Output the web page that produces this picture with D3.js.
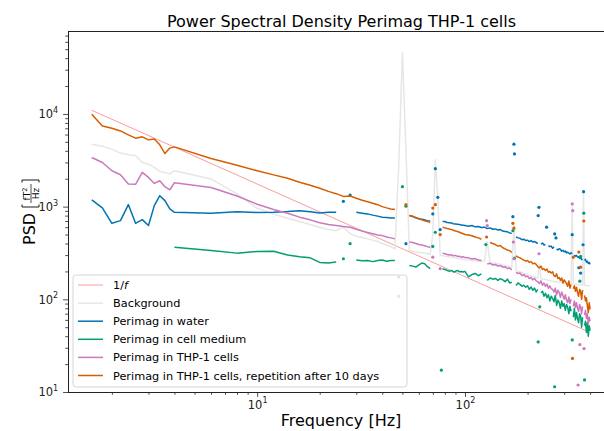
<!DOCTYPE html>
<html>
<head>
<meta charset="utf-8">
<script src="https://cdn.jsdelivr.net/npm/d3@7"></script>
<style>
body { margin: 0; background: #fff; }
svg { display: block; font-family: "DejaVu Sans", sans-serif; }
</style>
</head>
<body>
<svg id="chart" width="604" height="431"></svg>
<script>
// frequency grid [Hz] shared by all measured series
var freqs = [
  1.6, 1.8, 2.0, 2.2, 2.4, 2.6, 2.8, 3.0, 3.2, 3.4, 3.6, 3.8, 4.0,
  6, 8, 10, 12, 14, 16, 18, 20, 22, 24,
  26, 28, 30, 32, 34, 36, 38, 40, 42, 44,
  46, 48, 50, 52, 54, 56, 58, 60, 62, 64,
  66, 68, 70, 72, 74, 76, 78, 80, 82, 84,
  86, 88, 90, 92, 94, 96, 98, 100,
  104, 108, 112, 116, 120, 124, 128, 132, 136, 140,
  144, 148, 152, 156, 160, 164, 168, 172, 176, 180,
  184, 188, 192, 196, 200, 204, 208, 212, 216, 220,
  224, 228, 232, 236, 240, 244, 248, 252, 256, 260,
  264, 268, 272, 276, 280, 284, 288, 292, 296, 300,
  304, 308, 312, 316, 320, 324, 328, 332, 336, 340,
  344, 348, 352, 356, 360, 364, 368, 372, 376, 380,
  384, 388, 392, 396, 400
];

var oneOverFFreqs = [1.6, 390];
var oneOverFValues = [10960, 45];

var background = [
  4720, 4490, 4170, 3780, 3630, 3540, 2990, 2870, 2650, 2400, 2340, 2250, 2440,
  1990, 1370, 960, 830, 750, 690, 640, 600, 565, 550,
  600, 510, 480, 465, 449, 435, 420, 400, 385, 370,
  350, 2800, 46000, 4000, 336, 330, 325, 320, 318, 315,
  310, 305, 500, 3200, 1200, 300, 295, 292, 290, 288,
  285, 282, 280, 278, 275, 272, 270, 268,
  265, 262, 260, 258, 255, 260, 420, 250, 245, 245,
  240, 240, 235, 232, 230, 225, 220, 650, 205, 200,
  198, 195, 190, 188, 185, 182, 180, 178, 175, 172,
  170, 240, 168, 166, 165, 163, 162, 160, 160, 158,
  157, 156, 155, 155, 154, 153, 152, 152, 151, 150,
  150, 149, 149, 148, 148, 147, 1000, 147, 146, 146,
  145, 145, 144, 144, 143, 143, 142, 1450, 142, 141,
  141, 140, 140, 140, 140
];

var water = [
  1180, 968, 661, 706, 1052, 661, 724, 625, 1025, 1313, 1160, 945, 869,
  847, 883, 865, 870, 885, 905, 880, 855, 870, 869,
  null, null, 869, 850, 835, 810, 790, 770, 765, 755,
  755, null, null, null, 800, 780, 760, 740, 730, 720,
  705, 700, null, null, null, null, 690, 690, 675, 670,
  665, 655, 650, 645, 640, 635, 630, 625,
  615, 625, 605, 610, 595, 600, 580, 590, 570, 575,
  560, 565, 545, 540, 535, 520, 515, null, 470, 460,
  455, 440, 445, 430, 435, 420, 430, 415, 420, 410,
  400, null, 395, 405, 385, 390, null, 380, 370, 375,
  355, 368, null, 350, 340, 352, 345, 330, 338, 325,
  332, 318, 322, 315, 308, 318, 310, null, 300, 292,
  298, 285, 288, 276, 285, 268, 272, null, 262, 270,
  252, 258, 244, 250, 238
];

var cellMedium = [
  null, null, null, null, null, null, null, null, null, null, null, null, 365,
  336, 315, 328, 330, 300, 288, 280, 250, 246, 252,
  null, null, 266, 260, 262, 255, 262, 266, 258, 262,
  262, null, null, null, 232, 228, 223, 235, 246, 242,
  225, 214, null, null, null, null, 214, 210, 205, 200,
  205, 197, 200, 205, 198, 200, 197, 200,
  175, 185, 190, 180, 188, null, 160, 170, 165, 168,
  160, 167, 162, 155, 165, 150, 153, null, 141, 150,
  145, 138, 142, 135, 140, 128, 136, 125, 132, 120,
  128, null, 118, 122, 108, 116, 104, 112, 96, 108,
  102, 94, 110, 86, 98, 92, 80, 96, 84, 90,
  76, 88, 82, 70, 84, 74, null, 64, 80, 60,
  72, 62, 56, 70, 66, 50, 64, null, 52, 58,
  44, 56, 40, 52, 46
];

var thp1 = [
  3390, 2990, 2440, 2210, 1750, 1740, 2340, 2065, 1780, 1900, 1640, 1520, 1810,
  1610, 1300, 1060, 930, 850, 770, 720, 670, 640, 625,
  610, 600, 570, 545, 525, 510, 495, 487, 470, 460,
  449, null, null, null, 415, 410, 400, 390, 385, 378,
  370, 365, null, null, null, null, 315, 310, 305, 300,
  302, 295, 298, 290, 292, 285, 288, 282,
  280, 272, 275, 265, 262, null, 240, 245, 235, 238,
  228, 232, 222, 225, 215, 218, 208, null, 195, 190,
  192, 180, 185, 175, 178, 168, 172, 162, 168, 158,
  155, 148, 158, 142, 150, 138, 146, 132, 140, 130,
  128, 120, 132, 112, 125, 118, 105, 120, 110, 100,
  112, 98, 92, 106, 90, 100, null, 84, 96, 82,
  92, 80, 74, 88, 82, 70, 84, null, 68, 76,
  62, 70, 54, 64, 58
];

var thp1Repeat = [
  9930, 7430, 7010, 6560, 5940, 5480, 5660, 5250, 5380, 4640, 3740, 4280, 4410,
  3310, 2800, 2440, 2200, 2020, 1830, 1700, 1580, 1460, 1380,
  1290, 1300, 1230, 1170, 1130, 1090, 1050, 1000, 970, 945,
  930, null, null, null, 800, 790, 760, 740, 720, 705,
  690, 680, null, null, null, null, 600, 590, 580, 575,
  565, 555, 545, 540, 530, 520, 510, 500,
  495, 485, 470, 460, 445, null, null, 410, 400, 390,
  375, 380, 360, 350, 340, 335, 320, null, 295, 285,
  280, 272, 265, 258, 262, 250, 255, 242, 246, 238,
  225, 218, 228, 210, 214, 205, 212, 196, 200, 192,
  198, 180, 176, 188, 168, 172, 160, 170, 150, 162,
  155, 148, 138, 158, 132, 145, null, 130, 140, 122,
  135, 118, 108, 128, 122, 100, 126, null, 110, 96,
  104, 85, 72, 92, 78
];

// isolated points (frequency, PSD) between gaps
var waterDots = [[26, 1140], [28, 1335], [52, 398], [70, 835], [72, 2570], [74, 1260], [76, 565],
  [170, 780], [172, 4720], [173, 3700], [225, 800], [227, 982], [247, 600], [270, 508], [274, 460],
  [328, 498], [353, 219], [360, 192], [370, 388], [372, 1450]];
var cellMediumDots = [[26, 274], [28, 398], [48, 174], [50, 1640], [52, 1010], [70, 372], [72, 528],
  [77, 17.2], [126, 390], [170, 550], [173, 278], [225, 34.7], [229, 83], [270, 11.4], [328, 36.5],
  [357, 157], [360, 290], [373, 850], [376, 13.5]];
var thp1Dots = [[70, 285], [76, 214], [127, 706], [128, 625], [171, 415], [172, 274], [227, 310],
  [328, 1070], [330, 905], [350, 11.9], [357, 32.5], [374, 29.4]];
var thp1RepeatDots = [[48, 108], [52, 1050], [70, 965], [72, 1050], [76, 500], [127, 470], [170, 660],
  [172, 585], [329, 23], [332, 285], [353, 323], [360, 222], [373, 700]];

var seriesNames = ["1/f", "Background", "Perimag in water", "Perimag in cell medium",
  "Perimag in THP-1 cells", "Perimag in THP-1 cells, repetition after 10 days"];
var colors = ["#f89c9c", "#e6e6e6", "#0173b2", "#029e73", "#cc78bc", "#d55e00"];

var xMajorTicks = [10, 100];
var xMinorTicks = [2, 3, 4, 5, 6, 7, 8, 9, 20, 30, 40, 50, 60, 70, 80, 90, 200, 300, 400, 500];
var yMajorTicks = [10, 100, 1000, 10000];
var yMinorTicks = [20, 30, 40, 50, 60, 70, 80, 90, 200, 300, 400, 500, 600, 700, 800, 900,
  2000, 3000, 4000, 5000, 6000, 7000, 8000, 9000, 20000, 30000, 40000, 50000, 60000, 70000];

var svg = d3.select("#chart"),
    plotLeft = 68, plotRight = 615, plotTop = 31, plotBottom = 392;

var x = d3.scaleLog().domain([1.23, 527]).range([plotLeft, plotRight]),
    y = d3.scaleLog().domain([10, 78500]).range([plotBottom, plotTop]);

svg.append("defs").append("clipPath").attr("id", "plotclip")
  .append("rect")
  .attr("x", plotLeft).attr("y", plotTop)
  .attr("width", plotRight - plotLeft).attr("height", plotBottom - plotTop);

var plot = svg.append("g").attr("clip-path", "url(#plotclip)");

var line = d3.line()
  .defined(function(d) { return d[1] != null; })
  .x(function(d) { return x(d[0]); })
  .y(function(d) { return y(d[1]); });

function pairs(vals) {
  return freqs.map(function(f, i) { return [f, vals[i]]; });
}

// 1/f reference
plot.append("path")
  .datum(d3.zip(oneOverFFreqs, oneOverFValues))
  .attr("fill", "none")
  .attr("stroke", colors[0])
  .attr("stroke-width", 1)
  .attr("d", line);

var series = [
  {vals: background, dots: [], color: colors[1]},
  {vals: water, dots: waterDots, color: colors[2]},
  {vals: cellMedium, dots: cellMediumDots, color: colors[3]},
  {vals: thp1, dots: thp1Dots, color: colors[4]},
  {vals: thp1Repeat, dots: thp1RepeatDots, color: colors[5]}
];

series.forEach(function(s) {
  plot.append("path")
    .datum(pairs(s.vals))
    .attr("fill", "none")
    .attr("stroke", s.color)
    .attr("stroke-width", 1.5)
    .attr("stroke-linejoin", "round")
    .attr("d", line);
  plot.selectAll(null)
    .data(s.dots)
    .enter().append("circle")
    .attr("cx", function(d) { return x(d[0]); })
    .attr("cy", function(d) { return y(d[1]); })
    .attr("r", 1.6)
    .attr("fill", s.color);
});

// axes
function powerLabel(sel) {
  sel.each(function(d) {
    var t = d3.select(this);
    t.text(null);
    t.append("tspan").text("10");
    t.append("tspan").attr("dy", -5.3).attr("font-size", 8).text(Math.round(Math.log10(d)));
  });
}

var xAxis = svg.append("g").attr("transform", "translate(0," + plotBottom + ")");
xAxis.call(d3.axisBottom(x).tickValues(xMinorTicks).tickSize(2.8).tickSizeOuter(0).tickFormat(""));
var xMajor = xAxis.append("g")
  .call(d3.axisBottom(x).tickValues(xMajorTicks).tickSize(4.9).tickPadding(3.5).tickSizeOuter(0));
xMajor.selectAll(".tick text").call(powerLabel);

var yAxis = svg.append("g").attr("transform", "translate(" + plotLeft + ",0)");
yAxis.call(d3.axisLeft(y).tickValues(yMinorTicks).tickSize(2.8).tickSizeOuter(0).tickFormat(""));
var yMajor = yAxis.append("g")
  .call(d3.axisLeft(y).tickValues(yMajorTicks).tickSize(4.9).tickPadding(5).tickSizeOuter(0));
yMajor.selectAll(".tick text").call(powerLabel);

svg.selectAll(".tick line").attr("stroke-width", 0.8);
[xAxis, yAxis].forEach(function(a) {
  a.attr("color", "#222").attr("font-family", "DejaVu Sans, sans-serif").attr("font-size", 11.5);
  a.selectAll("g").attr("font-family", null).attr("font-size", null);
  a.selectAll("path.domain").attr("stroke-width", 1);
});

svg.append("line")
  .attr("x1", plotLeft).attr("x2", plotRight)
  .attr("y1", plotTop + 0.5).attr("y2", plotTop + 0.5)
  .attr("stroke", "#222").attr("stroke-width", 1);

// titles
svg.append("text")
  .attr("x", 341.5).attr("y", 26.5)
  .attr("text-anchor", "middle")
  .attr("font-size", 16)
  .text("Power Spectral Density Perimag THP-1 cells");

svg.append("text")
  .attr("x", 341).attr("y", 426)
  .attr("text-anchor", "middle")
  .attr("font-size", 16)
  .text("Frequency [Hz]");

var yl = svg.append("g").attr("transform", "translate(35,0) rotate(-90)");
yl.append("text").attr("x", -245).attr("y", 0).attr("font-size", 16).text("PSD");
yl.append("path")
  .attr("d", "M-204.5,-13 L-207,-13 L-207,4 L-204.5,4")
  .attr("fill", "none").attr("stroke", "#000").attr("stroke-width", 0.9);
yl.append("path")
  .attr("d", "M-182.5,-13 L-180,-13 L-180,4 L-182.5,4")
  .attr("fill", "none").attr("stroke", "#000").attr("stroke-width", 0.9);
yl.append("line")
  .attr("x1", -203).attr("x2", -184)
  .attr("y1", -4).attr("y2", -4)
  .attr("stroke", "#000").attr("stroke-width", 0.7);
var num = yl.append("text").attr("x", -194).attr("y", -5.5)
  .attr("text-anchor", "middle").attr("font-size", 9);
num.append("tspan").text("fT");
num.append("tspan").attr("dy", -3).attr("font-size", 6.5).text("2");
yl.append("text").attr("x", -193.5).attr("y", 3.8)
  .attr("text-anchor", "middle").attr("font-size", 9).text("Hz");

// legend
var legend = svg.append("g");
legend.append("rect")
  .attr("x", 73).attr("y", 275)
  .attr("width", 334).attr("height", 112)
  .attr("rx", 3)
  .attr("fill", "#fff").attr("fill-opacity", 0.8)
  .attr("stroke", "#d6d6d6").attr("stroke-width", 1);

var rows = legend.selectAll("g.row")
  .data(seriesNames)
  .enter().append("g")
  .attr("class", "row")
  .attr("transform", function(d, i) { return "translate(0," + (285 + i * 18.1) + ")"; });

rows.append("line")
  .attr("x1", 78).attr("x2", 103)
  .attr("stroke", function(d, i) { return colors[i]; })
  .attr("stroke-width", function(d, i) { return i == 0 ? 1 : 1.5; });

rows.append("text")
  .attr("x", 113).attr("y", 4)
  .attr("font-size", 11.3)
  .each(function(d, i) {
    var t = d3.select(this);
    if (i == 0) {
      t.append("tspan").text("1/");
      t.append("tspan").attr("font-style", "italic").text("f");
    } else {
      t.text(d);
    }
  });
</script>
</body>
</html>
